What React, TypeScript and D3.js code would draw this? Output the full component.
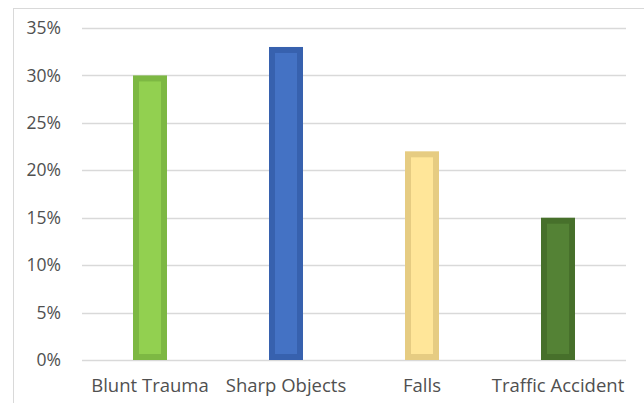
import React, { useEffect, useRef } from "react";
import * as d3 from "d3";

const categories = ["Blunt Trauma", "Sharp Objects", "Falls", "Traffic Accident"];
const values = [30, 33, 22, 15];
const fills = ["#92D050", "#4472C4", "#FFE699", "#548235"];
const borders = ["#7DB843", "#3761AE", "#E6CC82", "#47702B"];
const yTicks = [0, 5, 10, 15, 20, 25, 30, 35];

const App = () => {
  const ref = useRef<SVGSVGElement>(null);

  useEffect(() => {
    const svg = d3.select(ref.current);
    svg.selectAll("*").remove();

    const left = 82, right = 626, top = 28, bottom = 360;
    const font = "'Open Sans', 'Noto Sans', sans-serif";

    svg.append("rect")
      .attr("x", 13.5).attr("y", 8.5)
      .attr("width", 700).attr("height", 500)
      .attr("fill", "#fff").attr("stroke", "#D9D9D9");

    const x = d3.scaleBand().domain(categories).range([left, right]).paddingInner(0.75).paddingOuter(0.375);
    const y = d3.scaleLinear().domain([0, 35]).range([bottom, top]);

    svg.append("g").selectAll("line").data(yTicks).enter().append("line")
      .attr("x1", left).attr("x2", right)
      .attr("y1", d => Math.round(y(d)) + 0.5).attr("y2", d => Math.round(y(d)) + 0.5)
      .attr("stroke", "#D9D9D9").attr("stroke-width", 1.5);

    svg.append("g").selectAll("text").data(yTicks).enter().append("text")
      .attr("x", 61).attr("y", d => y(d))
      .attr("dy", "0.35em").attr("text-anchor", "end")
      .attr("font-family", font).attr("font-size", 17.5).attr("fill", "#505050")
      .text(d => d + "%");

    const bw = x.bandwidth();
    const inset = 6;
    const g = svg.append("g");
    categories.forEach((c, i) => {
      const x0 = x(c)!;
      const y0 = y(values[i]);
      g.append("rect").attr("x", x0).attr("y", y0).attr("width", bw).attr("height", bottom - y0).attr("fill", borders[i]);
      g.append("rect").attr("x", x0 + inset).attr("y", y0 + inset)
        .attr("width", bw - 2 * inset).attr("height", bottom - y0 - 2 * inset).attr("fill", fills[i]);
    });

    svg.append("g").selectAll("text").data(categories).enter().append("text")
      .attr("x", d => x(d)! + bw / 2).attr("y", 392)
      .attr("text-anchor", "middle")
      .attr("font-family", font).attr("font-size", 18.5).attr("fill", "#505050")
      .text(d => d);
  }, []);

  return (
    <svg ref={ref} width={644} height={403} style={{ position: "absolute", left: 0, top: 0 }} />
  );
};

export default App;
